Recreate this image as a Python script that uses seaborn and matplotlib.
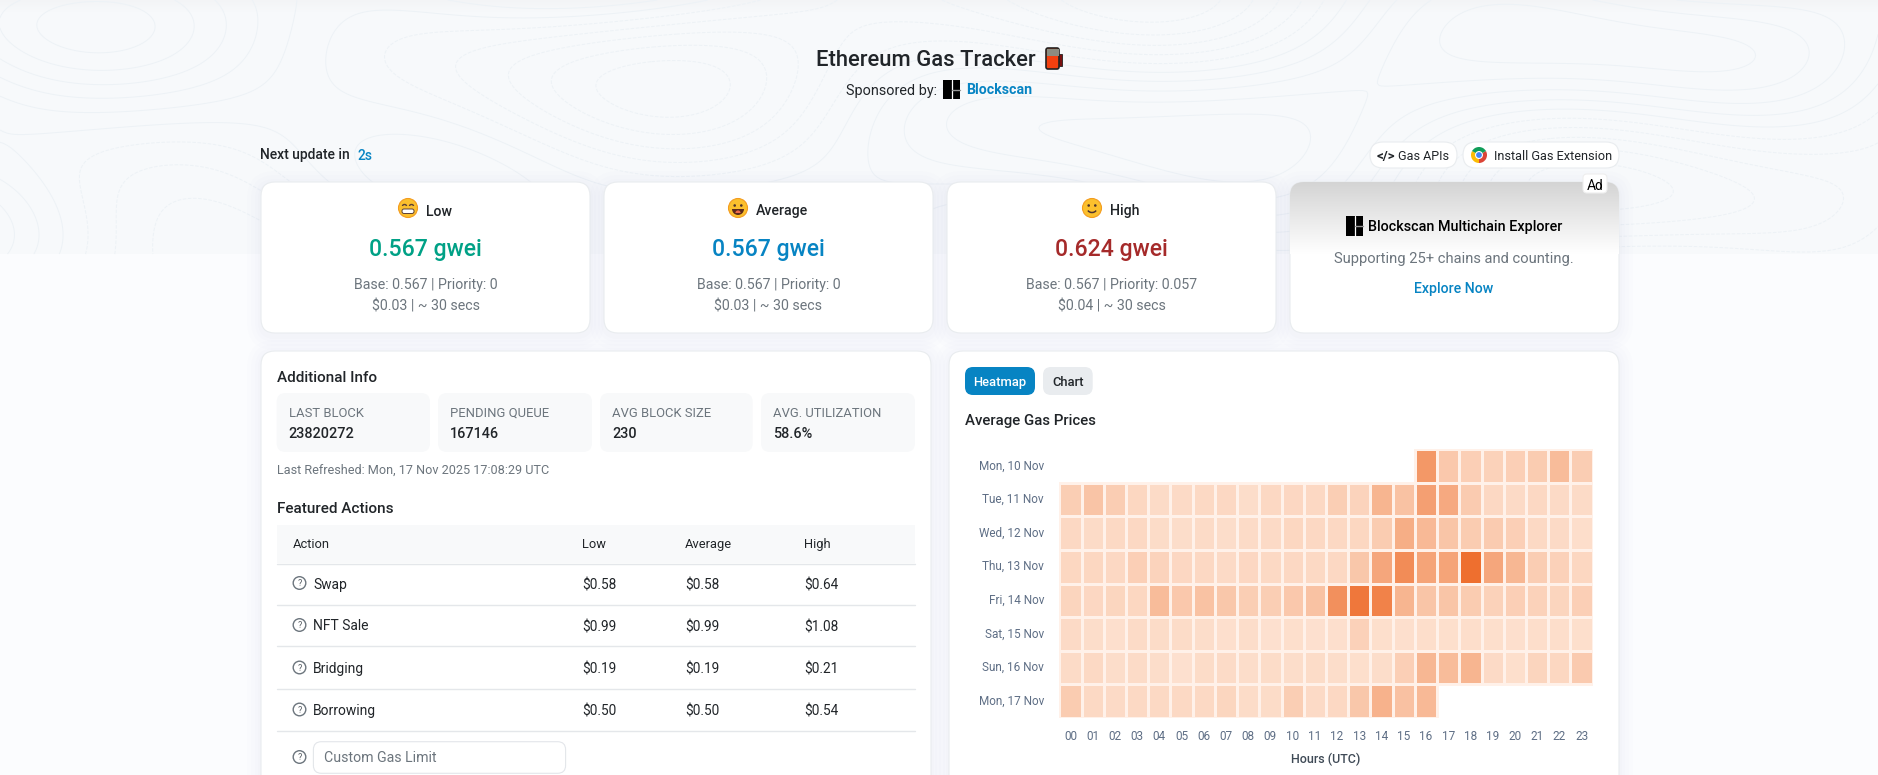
import numpy as np
import pandas as pd
import seaborn as sns
import matplotlib.pyplot as plt
from matplotlib.colors import LinearSegmentedColormap, to_rgba
from matplotlib.patches import Circle, FancyBboxPatch, Wedge, Rectangle, Arc

# heatmap values, read by eye on a 0-100 scale of colour depth (None = no data yet)
hours = ['%02d' % h for h in range(24)]
days = ['Mon, 10 Nov', 'Tue, 11 Nov', 'Wed, 12 Nov', 'Thu, 13 Nov',
        'Fri, 14 Nov', 'Sat, 15 Nov', 'Sun, 16 Nov', 'Mon, 17 Nov']
mon10 = [None] * 16 + [70, 28, 20, 17, 20, 24, 42, 23]
tue11 = [22, 33, 23, 12, 7, 8, 9, 10, 5, 10, 11, 10, 22, 16, 50, 35, 65, 58, 25, 10, 8, 10, 8, 7]
wed12 = [10, 7, 9, 10, 6, 5, 7, 5, 7, 8, 12, 10, 10, 12, 24, 55, 45, 32, 24, 25, 20, 9, 8, 4]
thu13 = [12, 12, 10, 20, 16, 11, 10, 8, 11, 9, 10, 9, 10, 30, 60, 78, 62, 62, 98, 60, 48, 23, 18, 12]
fri14 = [14, 11, 13, 12, 42, 28, 35, 30, 22, 22, 28, 35, 75, 92, 85, 50, 32, 32, 24, 17, 20, 17, 14, 20]
sat15 = [8, 5, 2, 7, 6, 6, 5, 2, 5, 1, 3, 1, 2, 18, 3, 2, 4, 3, 4, 3, 2, 4, 4, 3]
sun16 = [7, 9, 5, 7, 5, 1, 6, 7, 5, 6, 5, 6, 5, 3, 5, 20, 48, 42, 50, 8, 3, 14, 12, 26]
mon17 = [24, 9, 8, 9, 9, 9, 9, 13, 6, 6, 22, 8, 10, 30, 52, 36, 45] + [None] * 7

actions = ['Swap', 'NFT Sale', 'Bridging', 'Borrowing']
action_low = ['$0.58', '$0.99', '$0.19', '$0.50']
action_avg = ['$0.58', '$0.99', '$0.19', '$0.50']
action_high = ['$0.64', '$1.08', '$0.21', '$0.54']

stat_labels = ['LAST BLOCK', 'PENDING QUEUE', 'AVG BLOCK SIZE', 'AVG. UTILIZATION']
stat_values = ['23820272', '167146', '230', '58.6%']

gas_names = ['Low', 'Average', 'High']
gas_prices = ['0.567 gwei', '0.567 gwei', '0.624 gwei']
gas_base = ['Base: 0.567 | Priority: 0', 'Base: 0.567 | Priority: 0', 'Base: 0.567 | Priority: 0.057']
gas_cost = ['$0.03 | ~ 30 secs', '$0.03 | ~ 30 secs', '$0.04 | ~ 30 secs']

BLUE = '#0784c3'
GREY = '#6c757d'
DARK = '#212529'

sns.set_theme(style='white')
plt.rcParams['font.family'] = ['Roboto', 'DejaVu Sans']

fig = plt.figure(figsize=(18.78, 7.75), dpi=100)
page = fig.add_axes([0, 0, 1, 1])
page.set_xlim(0, 1878)
page.set_ylim(775, 0)
page.axis('off')


def box(x0, y0, x1, y1, r=14, fc='white', ec='#e9ecef', lw=0.8, z=2, shadow=False):
    if shadow:
        for grow, a in [(14, 0.006), (10, 0.007), (6, 0.008), (3, 0.01)]:
            page.add_patch(FancyBboxPatch((x0 - grow, y0 - grow + 3), x1 - x0 + 2 * grow, y1 - y0 + 2 * grow,
                                          boxstyle='round,pad=0,rounding_size=%d' % (r + grow),
                                          fc='#5a6a8a', ec='none', alpha=a, zorder=z))
    p = FancyBboxPatch((x0, y0), x1 - x0, y1 - y0, boxstyle='round,pad=0,rounding_size=%g' % r,
                       fc=fc, ec=ec, lw=lw, zorder=z)
    page.add_patch(p)
    return p


def label(x, y, s, size=10, color=DARK, weight='normal', ha='left', z=6):
    page.text(x, y, s, fontsize=size, color=color, fontweight=weight, ha=ha, va='center_baseline', zorder=z)


def logo(x0, y0, x1, y1, z=6):
    page.add_patch(Rectangle((x0, y0), x1 - x0, y1 - y0, fc='black', ec='none', zorder=z))
    mid = (x0 + x1) / 2
    page.plot([mid, mid], [y0, y1], color='white', lw=0.9, zorder=z + 1)
    page.plot([mid, x1], [(y0 + y1) / 2, (y0 + y1) / 2], color='#999999', lw=1.0, zorder=z + 1)


def face(x, y, mood):
    page.add_patch(Circle((x, y), 9.5, fc='#fbc02d', ec='#f39c1f', lw=0.8, zorder=6))
    if mood == 0:
        page.add_patch(Arc((x - 3.5, y - 2), 4, 3, theta1=180, theta2=360, color='#5d4037', lw=1, zorder=7))
        page.add_patch(Arc((x + 3.5, y - 2), 4, 3, theta1=180, theta2=360, color='#5d4037', lw=1, zorder=7))
        page.add_patch(FancyBboxPatch((x - 6, y + 1), 12, 4.5, boxstyle='round,pad=0,rounding_size=2',
                                      fc='white', ec='#5d4037', lw=0.7, zorder=7))
    else:
        page.add_patch(Circle((x - 3.3, y - 2.5), 1.3, fc='#4e342e', ec='none', zorder=7))
        page.add_patch(Circle((x + 3.3, y - 2.5), 1.3, fc='#4e342e', ec='none', zorder=7))
        if mood == 1:
            page.add_patch(Wedge((x, y + 1), 6, 0, 180, fc='#5d2a1a', ec='none', zorder=7))
            page.add_patch(Wedge((x, y + 5), 2.6, 180, 360, fc='#ef6c4a', ec='none', zorder=8))
        else:
            page.add_patch(Arc((x, y + 1), 9, 7, theta1=20, theta2=160, color='#4e342e', lw=1.1, zorder=7))


def chrome_icon(x, y, r=8):
    for a, col in [(-30, '#db4437'), (90, '#fbbc05'), (210, '#0f9d58')]:
        page.add_patch(Wedge((x, y), r, a, a + 120, fc=col, ec='none', zorder=6))
    page.add_patch(Circle((x, y), r * 0.5, fc='white', ec='none', zorder=7))
    page.add_patch(Circle((x, y), r * 0.36, fc='#4285f4', ec='none', zorder=8))


def question(x, y):
    page.add_patch(Circle((x, y), 6.3, fc='none', ec='#6c757d', lw=1, zorder=6))
    page.text(x, y, '?', fontsize=6.5, color='#555c63', ha='center', va='center_baseline', zorder=7)


# page background, contour lines only in the top band
page.add_patch(Rectangle((0, 0), 1878, 775, fc='#fbfcfe', ec='none', zorder=0))
fade = np.linspace(0, 1, 60).reshape(-1, 1)
page.add_patch(Rectangle((0, 0), 1878, 254, fc='#f7f9fb', ec='none', zorder=0.6))
page.imshow(fade, extent=(0, 1878, 12, 0), cmap=LinearSegmentedColormap.from_list('t', ['#f3f4f6', '#f7f9fb']),
            aspect='auto', zorder=0.7)
gx, gy = np.meshgrid(np.linspace(0, 1878, 500), np.linspace(0, 254, 120))
topo = (np.sin(gx / 210 + gy / 70) + 0.8 * np.cos(gx / 120 - gy / 45) + 0.4 * np.sin(gx / 70 + gy / 95)
        + 0.6 * np.cos(gy / 38 + gx / 350))
page.contour(gx, gy, topo, levels=14, colors='#edf2f6', linewidths=0.7, zorder=0.8)
page.set_xlim(0, 1878)
page.set_ylim(775, 0)

# header
label(815.5, 58, 'Ethereum Gas Tracker', size=15.8, weight=500)
box(1046, 48, 1059, 69, r=2, fc='#f2400f', ec='#222222', lw=1.2, z=6)
page.add_patch(Rectangle((1046.5, 48.5), 12, 7, fc='#8c8c80', ec='none', zorder=7))
page.add_patch(Rectangle((1059, 54), 2.5, 12, fc='#7a1010', ec='#222222', lw=0.6, zorder=6))
label(846, 89, 'Sponsored by:', size=10.4)
logo(943, 80, 960, 99)
label(966, 89, 'Blockscan', size=10.2, color=BLUE, weight='bold')
label(260, 154, 'Next update in', size=10, weight=500)
label(357, 154, '2s', size=10, color=BLUE, weight=500)

# pills
box(1370, 142, 1457, 168, r=13)
box(1463, 142, 1619, 168, r=13)
label(1386, 155, '</>', size=9.5, ha='center', weight='bold', z=6)
label(1398, 155, 'Gas APIs', size=9.1)
chrome_icon(1479, 155)
label(1494, 155, 'Install Gas Extension', size=9.2)

# gas cards
card_x = [(261, 590), (604, 933), (947, 1276)]
price_colors = ['#00a186', BLUE, '#a52a2a']
face_x = [408, 738, 1092]
name_x = [426, 756, 1110]
for i, (x0, x1) in enumerate(card_x):
    box(x0, 182, x1, 333, shadow=True)
    cx = (x0 + x1) / 2
    face(face_x[i], 208, i)
    label(name_x[i], 210, gas_names[i], size=10.2, weight=500)
    label(cx, 247, gas_prices[i], size=16.6, color=price_colors[i], weight=500, ha='center')
    label(cx, 283, gas_base[i], size=10.2, color=GREY, ha='center')
    label(cx, 305, gas_cost[i], size=10.2, color=GREY, ha='center')

# ad card with grey gradient at the top
ad = box(1290, 182, 1619, 333, shadow=True, fc='white')
grad = np.linspace(0, 1, 80).reshape(-1, 1)
im = page.imshow(grad, extent=(1290, 1619, 254, 182), cmap=LinearSegmentedColormap.from_list('a', ['#d4d4d4', '#ffffff']),
                 aspect='auto', zorder=2.5)
im.set_clip_path(ad)
page.set_xlim(0, 1878)
page.set_ylim(775, 0)
box(1583, 174, 1607, 193, r=4, ec='#eeeeee', z=5)
label(1595, 184, 'Ad', size=10, color='black', ha='center', z=7)
logo(1346, 216, 1363, 236)
label(1368, 225, 'Blockscan Multichain Explorer', size=10.4, color='black', weight=500)
label(1454, 258, 'Supporting 25+ chains and counting.', size=10.6, color=GREY, ha='center')
label(1454, 288, 'Explore Now', size=10.2, color=BLUE, weight=500, ha='center')

# lower cards run off the bottom of the page
box(261, 351, 931, 800, shadow=True)
box(949, 351, 1619, 800, shadow=True)

label(276.6, 376, 'Additional Info', size=11, weight=500)
stat_x = [(276.6, 430), (438, 592), (600, 752.7), (761, 915)]
for (x0, x1), name, value in zip(stat_x, stat_labels, stat_values):
    box(x0, 393, x1, 452, r=9, fc='#f8f9fa', ec='none', lw=0, z=3)
    label(x0 + 12, 411.7, name, size=9.4, color=GREY)
    label(x0 + 12, 432.3, value, size=10.4, weight=500)
label(276.6, 468.7, 'Last Refreshed: Mon, 17 Nov 2025 17:08:29 UTC', size=9.1, color=GREY)

label(276.8, 507.7, 'Featured Actions', size=11, weight=500)
page.add_patch(Rectangle((276.8, 525), 638.2, 38, fc='#f8f9fa', ec='none', zorder=3))
page.plot([276.8, 915], [563.5, 563.5], color='#e4e7ea', lw=1, zorder=4)
for x, s in [(293, 'Action'), (582, 'Low'), (685, 'Average'), (804, 'High')]:
    label(x, 542.7, s, size=9.3)
row_y = [583, 625, 667.5, 709.5]
line_y = [605, 646.3, 688.5, 730.5]
for i, name in enumerate(actions):
    question(299.5, row_y[i])
    label(313, row_y[i], name, size=10)
    label(582, row_y[i] + 0.7, action_low[i], size=9.8)
    label(685, row_y[i] + 0.7, action_avg[i], size=9.8)
    label(804, row_y[i] + 0.7, action_high[i], size=9.8)
    page.plot([276.8, 915], [line_y[i], line_y[i]], color='#e4e7ea', lw=1, zorder=4)
question(299.5, 757)
box(313.4, 741.7, 565.6, 773.3, r=8, ec='#e3e6ea', z=3)
label(323.7, 757, 'Custom Gas Limit', size=10.2, color=GREY)

# heatmap panel
box(965, 367, 1035, 395, r=8, fc=BLUE, ec='none', lw=0, z=3)
label(1000, 380.7, 'Heatmap', size=9.3, color='white', weight=500, ha='center')
box(1043, 367, 1092.7, 395, r=8, fc='#e9ecef', ec='none', lw=0, z=3)
label(1068, 380.7, 'Chart', size=9.3, weight=500, ha='center')
label(965, 420, 'Average Gas Prices', size=10.8, weight=500)

grid = pd.DataFrame([mon10, tue11, wed12, thu13, fri14, sat15, sun16, mon17],
                    index=days, columns=hours, dtype=float)
cmap = LinearSegmentedColormap.from_list('gas', ['#fde1d0', '#f7b590', '#ee6c2b'])
hm_ax = fig.add_axes([1059.3 / 1878, 1 - 718 / 775, 533.4 / 1878, 269 / 775], facecolor='none', zorder=5)
sns.heatmap(grid, ax=hm_ax, cmap=cmap, vmin=0, vmax=100, cbar=False,
            linewidths=0.8, linecolor='#fff1e9', square=False)
# no cell outlines where there is no data
mesh = hm_ax.collections[0]
edges = np.tile(to_rgba('#fff1e9'), (grid.size, 1))
edges[grid.isna().values.ravel(), 3] = 0
mesh.set_edgecolor(edges)
hm_ax.tick_params(axis='both', length=0, labelsize=8.5, labelcolor='#5e6e85')
hm_ax.tick_params(axis='x', pad=8.5, rotation=0)
hm_ax.tick_params(axis='y', pad=11, rotation=0)
hm_ax.set_xlabel('Hours (UTC)', fontsize=9, color='#3f4a56', fontweight=500, labelpad=7)
hm_ax.set_ylabel('')

fig.savefig('out.png', dpi=100)
